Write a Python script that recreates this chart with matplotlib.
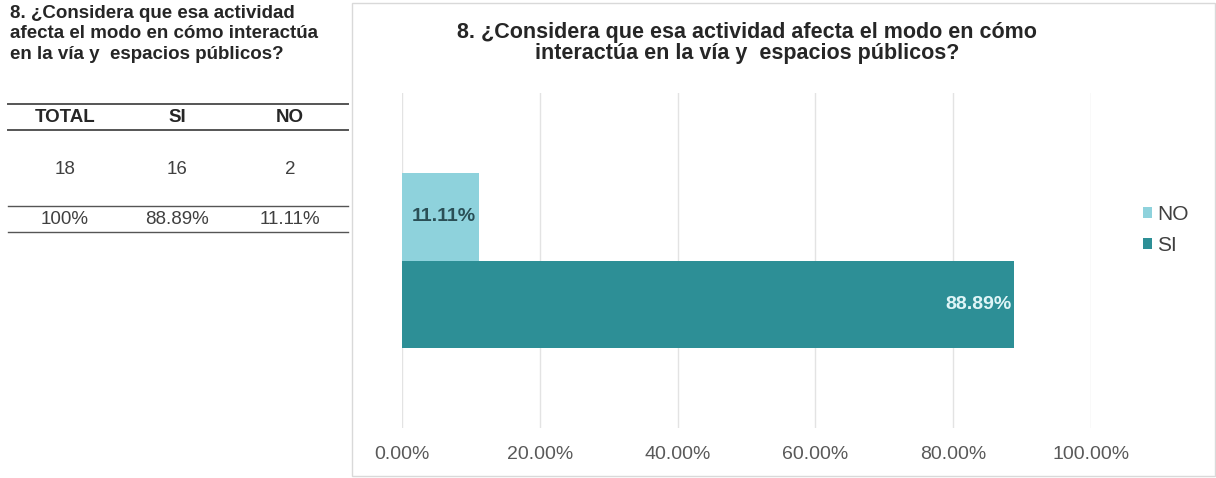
import matplotlib.pyplot as plt
from matplotlib.lines import Line2D
from matplotlib.patches import Rectangle

plt.rcParams['font.family'] = ['Liberation Sans', 'DejaVu Sans']

question = "8. ¿Considera que esa actividad afecta el modo en cómo\ninteractúa en la vía y  espacios públicos?"
side_title = "8. ¿Considera que esa actividad\nafecta el modo en cómo interactúa\nen la vía y  espacios públicos?"

# survey answers
answers = ['NO', 'SI']
counts = [2, 16]
percents = [11.11, 88.89]

# summary table
table_header = ['TOTAL', 'SI', 'NO']
table_counts = ['18', '16', '2']
table_pcts = ['100%', '88.89%', '11.11%']

colors = {'NO': '#8ed2dc', 'SI': '#2d8f96'}
label_colors = {'NO': '#2a4f56', 'SI': '#dff5f7'}

W, H = 1216, 478
fig = plt.figure(figsize=(W / 100, H / 100), dpi=100)


def fy(px):
    return 1 - px / H


# ---- left: title + table ----
fig.text(10 / W, fy(34), side_title, ha='left', va='center', fontsize=13.5,
         fontweight='bold', color='#262626', linespacing=1.3)

for y_px, lw in [(104, 1.4), (130, 1.4), (206, 1.0), (232, 1.0)]:
    fig.add_artist(Line2D([8 / W, 348 / W], [fy(y_px), fy(y_px)],
                          transform=fig.transFigure, color='#555555', lw=lw))

col_x = [65, 177, 290]
for x, h, c, p in zip(col_x, table_header, table_counts, table_pcts):
    fig.text(x / W, fy(118), h, ha='center', va='center', fontsize=13.5,
             fontweight='bold', color='#262626')
    fig.text(x / W, fy(170), c, ha='center', va='center', fontsize=13.5,
             color='#404040')
    fig.text(x / W, fy(219), p, ha='center', va='center', fontsize=13.5,
             color='#404040')

# ---- right: chart frame ----
fig.add_artist(Rectangle((352 / W, fy(476)), 863 / W, 473 / H,
                         transform=fig.transFigure, fill=False,
                         edgecolor='#d9d9d9', lw=1))

fig.text(747 / W, fy(43), question, ha='center', va='center', fontsize=15.5,
         fontweight='bold', color='#262626', linespacing=1.05)

ax = fig.add_axes([402 / W, fy(428), 689 / W, 335 / H])
bar_h = 0.26
offsets = {'NO': bar_h / 2, 'SI': -bar_h / 2}
for name, val in zip(answers, percents):
    ax.barh(offsets[name], val / 100, height=bar_h, color=colors[name],
            label=name, zorder=2)
    ax.text(val / 100 - 0.004, offsets[name], f'{val:.2f}%', ha='right',
            va='center', fontsize=14, fontweight='bold',
            color=label_colors[name], zorder=3)

ax.set_xlim(0, 1)
ax.set_ylim(-0.5, 0.5)
ax.set_xticks([0, 0.2, 0.4, 0.6, 0.8, 1.0])
ax.set_xticklabels([f'{t * 100:.2f}%' for t in ax.get_xticks()])
ax.set_yticks([])
ax.tick_params(axis='x', length=0, pad=13, labelsize=14, labelcolor='#595959')
ax.grid(axis='x', color='#e3e3e3', lw=1, zorder=0)
for s in ax.spines.values():
    s.set_visible(False)

handles, labels = ax.get_legend_handles_labels()
fig.legend(handles, labels, loc='center left', bbox_to_anchor=(1124 / W, fy(230)),
           frameon=False, fontsize=15, handlelength=0.45, handleheight=0.45,
           handletextpad=0.25, labelspacing=0.55, labelcolor='#404040')

fig.savefig('out.png', dpi=100, facecolor='white')
